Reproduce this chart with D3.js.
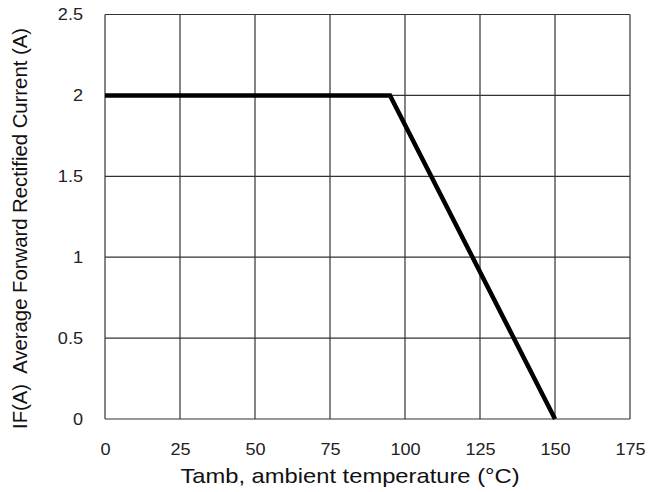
<!DOCTYPE html>
<html>
<head>
<meta charset="utf-8">
<script src="https://cdn.jsdelivr.net/npm/d3@7"></script>
<style>
  body { margin: 0; background: #fff; }
  svg text { font-family: "Liberation Sans", Arial, sans-serif; }
</style>
</head>
<body>
<svg class="main"></svg>
<script>
// derating curve: temperature (°C) vs average forward current (A)
let tempValues = [0, 95, 150];
let currentValues = [2, 2, 0];
let xTicks = [0, 25, 50, 75, 100, 125, 150, 175];
let yTicks = [0, 0.5, 1, 1.5, 2, 2.5];
let xTitle = 'Tamb, ambient temperature (°C)';
let yTitle = 'IF(A)  Average Forward Rectified Current (A)';

let w = 649, h = 492;
let padL = 105, padR = 630, padT = 14.5, padB = 419;
let stretch = 1.13;

let svg = d3.select('.main')
  .attr('width', w)
  .attr('height', h);

let x = d3.scaleLinear().domain([0, 175]).range([padL, padR]);
let y = d3.scaleLinear().domain([0, 2.5]).range([padB, padT]);

// widen text a bit, the source font is drawn wider than Liberation
let widen = function(sel, k) {
  sel.each(function() {
    let len = this.getComputedTextLength();
    d3.select(this).attr('textLength', len * (k || stretch)).attr('lengthAdjust', 'spacingAndGlyphs');
  });
};

// grid
svg.append('g').selectAll('line')
  .data(xTicks)
  .enter().append('line')
  .attr('x1', d => x(d)).attr('x2', d => x(d))
  .attr('y1', padT).attr('y2', padB)
  .attr('stroke', '#333').attr('stroke-width', 1.2);

svg.append('g').selectAll('line')
  .data(yTicks)
  .enter().append('line')
  .attr('x1', padL).attr('x2', padR)
  .attr('y1', d => y(d)).attr('y2', d => y(d))
  .attr('stroke', '#333').attr('stroke-width', 1.2);

// axes, only labels
let xAxis = svg.append('g')
  .attr('transform', `translate(0,${padB})`)
  .call(d3.axisBottom(x).tickValues(xTicks).tickSize(0).tickPadding(25));
let yAxis = svg.append('g')
  .attr('transform', `translate(${padL},0)`)
  .call(d3.axisLeft(y).tickValues(yTicks).tickSize(0).tickPadding(22).tickFormat(d => d));

[xAxis, yAxis].forEach(a => {
  a.select('.domain').remove();
  a.selectAll('text')
    .attr('font-size', 16)
    .attr('font-family', '"Liberation Sans", Arial, sans-serif')
    .attr('fill', '#222')
    .call(widen);
});

// curve
let points = tempValues.map((t, i) => [t, currentValues[i]]);
svg.append('path')
  .datum(points)
  .attr('d', d3.line().x(d => x(d[0])).y(d => y(d[1])))
  .attr('fill', 'none')
  .attr('stroke', '#000')
  .attr('stroke-width', 4.5);

// titles
svg.append('text')
  .attr('x', 350)
  .attr('y', 483)
  .attr('text-anchor', 'middle')
  .attr('font-size', 21)
  .attr('fill', '#111')
  .text(xTitle)
  .call(widen);

svg.append('text')
  .attr('transform', `translate(27,228.5) rotate(-90)`)
  .attr('text-anchor', 'middle')
  .attr('font-size', 20)
  .attr('fill', '#111')
  .style('white-space', 'pre')
  .text(yTitle)
  .attr('textLength', 401)
  .attr('lengthAdjust', 'spacingAndGlyphs');
</script>
</body>
</html>
